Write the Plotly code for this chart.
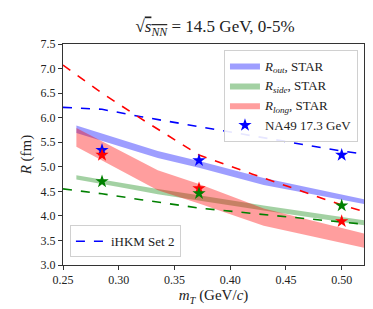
import plotly.graph_objects as go

# STAR bands
mt_band = [0.262, 0.30, 0.335, 0.372, 0.43, 0.52]
rout_hi = [5.84, 5.57, 5.32, 5.12, 4.77, 4.34]
rout_lo = [5.69, 5.42, 5.18, 4.98, 4.63, 4.24]
rside_hi = [4.83, 4.68, 4.55, 4.42, 4.21, 3.91]
rside_lo = [4.74, 4.59, 4.44, 4.31, 4.11, 3.81]
rlong_hi = [5.79, 5.35, 4.93, 4.65, 4.15, 3.64]
rlong_lo = [5.41, 4.95, 4.52, 4.25, 3.80, 3.35]

# iHKM Set 2
mt_model = [0.25, 0.285, 0.32, 0.372, 0.42, 0.50, 0.52]
ihkm_out = [6.21, 6.17, 6.02, 5.81, 5.63, 5.32, 5.26]
ihkm_side = [4.55, 4.45, 4.33, 4.16, 4.05, 3.88, 3.83]
ihkm_long = [7.07, 6.50, 5.98, 5.24, 4.85, 4.22, 4.09]

# NA49 17.3 GeV
mt_na49 = [0.285, 0.372, 0.50]
na49_out = [5.34, 5.13, 5.24]
na49_side = [4.70, 4.46, 4.21]
na49_long = [5.24, 4.56, 3.89]

FONT = "Liberation Serif"
fig = go.Figure()

def band(hi, lo, color, name):
    fig.add_trace(go.Scatter(
        x=mt_band + mt_band[::-1], y=hi + lo[::-1], fill="toself",
        fillcolor=color, line=dict(width=0), mode="lines", name=name,
        hoverinfo="skip", legend="legend"))

band(rout_hi, rout_lo, "rgba(0,0,255,0.38)", "<i>R</i><sub><i>out</i></sub>, STAR")
band(rside_hi, rside_lo, "rgba(0,128,0,0.36)", "<i>R</i><sub><i>side</i></sub>, STAR")
band(rlong_hi, rlong_lo, "rgba(255,0,0,0.38)", "<i>R</i><sub><i>long</i></sub>, STAR")

for ys, c, show in [(ihkm_out, "blue", True), (ihkm_side, "green", False), (ihkm_long, "red", False)]:
    fig.add_trace(go.Scatter(x=mt_model, y=ys, mode="lines",
                             line=dict(color=c, width=1.6, dash="dash"),
                             name="iHKM Set 2", showlegend=show, legend="legend2"))

for ys, c, show in [(na49_out, "blue", True), (na49_long, "red", False), (na49_side, "green", False)]:
    fig.add_trace(go.Scatter(x=mt_na49, y=ys, mode="markers",
                             marker=dict(symbol="star", size=10, color=c, line=dict(width=0)),
                             name="NA49 17.3 GeV", showlegend=show, legend="legend"))

fig.update_layout(
    width=373, height=309,
    margin=dict(l=55, r=17, t=36, b=52),
    paper_bgcolor="white", plot_bgcolor="white",
    font=dict(family=FONT, size=12, color="#222"),
    title=dict(text="√<span style='text-decoration:overline'><i>s</i><sub><i>NN</i></sub></span> = 14.5 GeV, 0-5%",
               x=0.555, xanchor="center", y=0.94, yanchor="middle",
               font=dict(family=FONT, size=17, color="#222")),
    xaxis=dict(range=[0.25, 0.52], tickvals=[0.25, 0.30, 0.35, 0.40, 0.45, 0.50],
               tickformat=".2f", ticks="outside", ticklen=4, tickcolor="#333",
               showline=True, linecolor="#333", linewidth=1, mirror=True,
               showgrid=False, zeroline=False,
               tickfont=dict(size=12),
               title=dict(text="<i>m</i><sub><i>T</i></sub> (GeV/<i>c</i>)", font=dict(size=15), standoff=3)),
    yaxis=dict(range=[3.0, 7.5], tickvals=[3.0, 3.5, 4.0, 4.5, 5.0, 5.5, 6.0, 6.5, 7.0, 7.5],
               tickformat=".1f", ticks="outside", ticklen=4, tickcolor="#333",
               showline=True, linecolor="#333", linewidth=1, mirror=True,
               showgrid=False, zeroline=False,
               tickfont=dict(size=12),
               title=dict(text="<i>R</i> (fm)", font=dict(size=15), standoff=5)),
    legend=dict(x=0.98, y=0.975, xanchor="right", yanchor="top",
                bgcolor="rgba(255,255,255,0.9)", bordercolor="#d0d0d0", borderwidth=1,
                font=dict(size=13), tracegroupgap=0, itemwidth=30),
    legend2=dict(x=0.023, y=0.035, xanchor="left", yanchor="bottom",
                 bgcolor="rgba(255,255,255,0.9)", bordercolor="#d0d0d0", borderwidth=1,
                 font=dict(size=13), itemwidth=30),
)

fig.write_html("out.html")
